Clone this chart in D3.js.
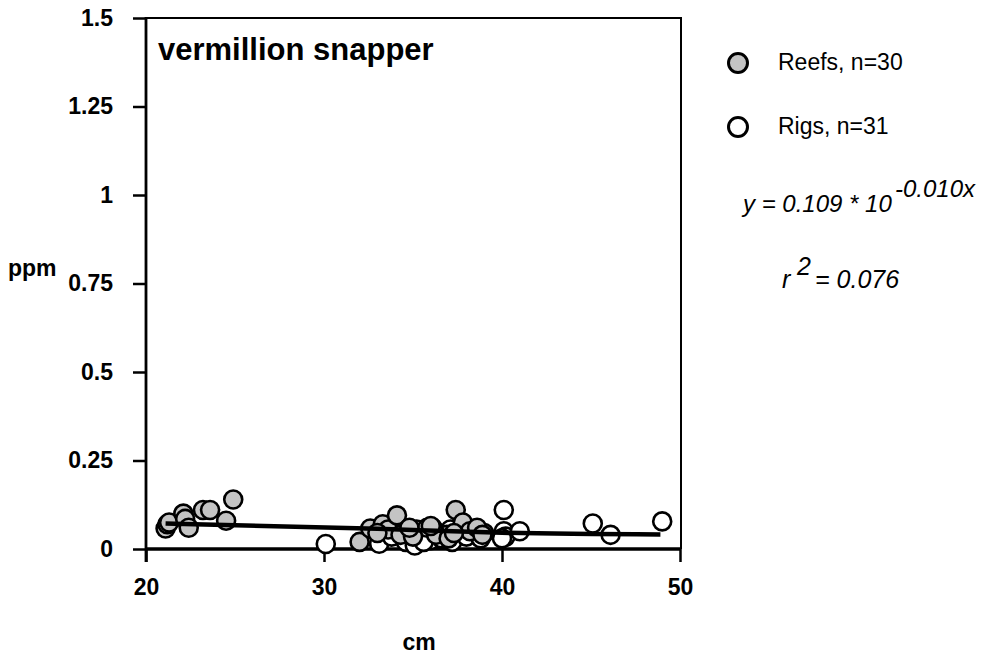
<!DOCTYPE html>
<html><head><meta charset="utf-8">
<script src="https://cdn.jsdelivr.net/npm/d3@7"></script>
<style>body{margin:0;background:#fff}svg{display:block}</style>
</head><body>
<svg id="c" width="982" height="656"></svg>
<script>
const title = "vermillion snapper";
const reefLength = [21.1,21.2,21.3,22.1,22.2,22.4,23.2,23.6,24.5,24.9,32.0,32.6,33.3,33.6,34.1,34.3,35.2,35.8,36.3,37.0,37.4,37.8,38.2,38.6,38.9,35.0,33.0,36.0,34.8,37.3];
const reefPpm    = [0.058,0.07,0.075,0.10,0.085,0.06,0.11,0.11,0.08,0.14,0.02,0.058,0.07,0.055,0.095,0.04,0.055,0.06,0.04,0.03,0.11,0.075,0.05,0.06,0.04,0.035,0.045,0.065,0.06,0.045];
const rigLength  = [30.1,32.9,33.1,33.5,34.0,34.6,35.1,35.5,36.0,36.1,36.6,37.2,37.5,38.0,38.3,38.8,40.1,40.1,40.2,41.0,45.1,46.1,49.0,33.8,34.9,36.4,37.1,35.6,39.0,40.0,36.9];
const rigPpm     = [0.014,0.03,0.015,0.05,0.045,0.02,0.01,0.04,0.025,0.06,0.03,0.02,0.05,0.035,0.055,0.03,0.11,0.05,0.035,0.05,0.072,0.04,0.078,0.035,0.05,0.045,0.055,0.02,0.045,0.03,0.04];
const fitLength = [21.1, 33, 40, 48.9];
const fitPpm    = [0.072, 0.057, 0.046, 0.041];
const xTicks = [20, 30, 40, 50];
const yTicks = [0, 0.25, 0.5, 0.75, 1, 1.25, 1.5];
const yTickLabels = ["0", "0.25", "0.5", "0.75", "1", "1.25", "1.5"];
const legendLabels = ["Reefs, n=30", "Rigs, n=31"];
const xLabel = "cm", yLabel = "ppm";

const svg = d3.select("#c");
const L = 146, R = 681, T = 18, B = 549;
const x = d3.scaleLinear().domain([20, 50]).range([L, 680]);
const y = d3.scaleLinear().domain([0, 1.5]).range([B, T]);
const font = "Liberation Sans, Arial, sans-serif";
const gray = "#c4c4c4";

// frame (top/right)
svg.append("path").attr("d", `M${L},${T}H${R}V${B}`).attr("fill","none").attr("stroke","#000").attr("stroke-width",2);

// y axis
const ya = svg.append("g").attr("transform", `translate(${L},0)`)
  .call(d3.axisLeft(y).tickValues(yTicks).tickFormat((d,i)=>yTickLabels[i]).tickSize(13).tickSizeOuter(0).tickPadding(20));
ya.select(".domain").remove();
ya.selectAll(".tick line").attr("stroke","#000").attr("stroke-width",2.5);
ya.selectAll(".tick text").attr("font-family",font).attr("font-weight","bold").attr("font-size",23).attr("fill","#000");
svg.append("line").attr("x1",L).attr("x2",L).attr("y1",T-1).attr("y2",B+13).attr("stroke","#000").attr("stroke-width",2.8);

// x axis
const xa = svg.append("g").attr("transform", `translate(0,${B})`)
  .call(d3.axisBottom(x).tickValues(xTicks).tickFormat(d3.format("d")).tickSize(13).tickSizeOuter(0).tickPadding(17));
xa.select(".domain").remove();
xa.selectAll(".tick line").attr("stroke","#000").attr("stroke-width",2.5);
xa.selectAll(".tick text").attr("font-family",font).attr("font-weight","bold").attr("font-size",23).attr("fill","#000");
svg.append("line").attr("x1",L).attr("x2",R).attr("y1",B).attr("y2",B).attr("stroke","#000").attr("stroke-width",3.5);

// axis titles
svg.append("text").attr("x",8).attr("y",276).text(yLabel).attr("font-family",font).attr("font-weight","bold").attr("font-size",23);
svg.append("text").attr("x",419).attr("y",650).attr("text-anchor","middle").text(xLabel).attr("font-family",font).attr("font-weight","bold").attr("font-size",23);

// title
svg.append("text").attr("x",158).attr("y",60).text(title).attr("font-family",font).attr("font-weight","bold").attr("font-size",31);

// points
const rigs = rigLength.map((d,i)=>({x:d,y:rigPpm[i]}));
const reefs = reefLength.map((d,i)=>({x:d,y:reefPpm[i]}));
svg.append("g").selectAll("circle").data(rigs).join("circle")
  .attr("cx",d=>x(d.x)).attr("cy",d=>y(d.y)).attr("r",9).attr("fill","#fff").attr("stroke","#000").attr("stroke-width",2.6);
svg.append("g").selectAll("circle").data(reefs).join("circle")
  .attr("cx",d=>x(d.x)).attr("cy",d=>y(d.y)).attr("r",9).attr("fill",gray).attr("stroke","#000").attr("stroke-width",2.6);

// fit line
const fit = fitLength.map((d,i)=>[d, fitPpm[i]]);
svg.append("path").datum(fit).attr("d", d3.line().x(d=>x(d[0])).y(d=>y(d[1])).curve(d3.curveMonotoneX))
  .attr("fill","none").attr("stroke","#000").attr("stroke-width",4.5);

// legend
const lg = svg.append("g");
legendLabels.forEach((t,i)=>{
  const cy = 63 + i*64;
  lg.append("circle").attr("cx",738).attr("cy",cy).attr("r",9.5).attr("fill", i===0?gray:"#fff").attr("stroke","#000").attr("stroke-width",3);
  lg.append("text").attr("x",778).attr("y",cy+7).text(t).attr("font-family",font).attr("font-size",23).attr("fill","#000");
});

// equation
const eq = svg.append("text").attr("font-family",font).attr("font-style","italic").attr("font-size",24).attr("fill","#000");
eq.append("tspan").attr("x",743).attr("y",212).text("y = 0.109 * 10");
eq.append("tspan").attr("x",895).attr("y",197).attr("font-size",24).text("-0.010x");
const r2 = svg.append("text").attr("font-family",font).attr("font-style","italic").attr("font-size",25).attr("fill","#000");
r2.append("tspan").attr("x",782).attr("y",288).text("r");
r2.append("tspan").attr("x",797).attr("y",275).text("2");
r2.append("tspan").attr("x",815).attr("y",288).text("= 0.076");
</script>
</body></html>
